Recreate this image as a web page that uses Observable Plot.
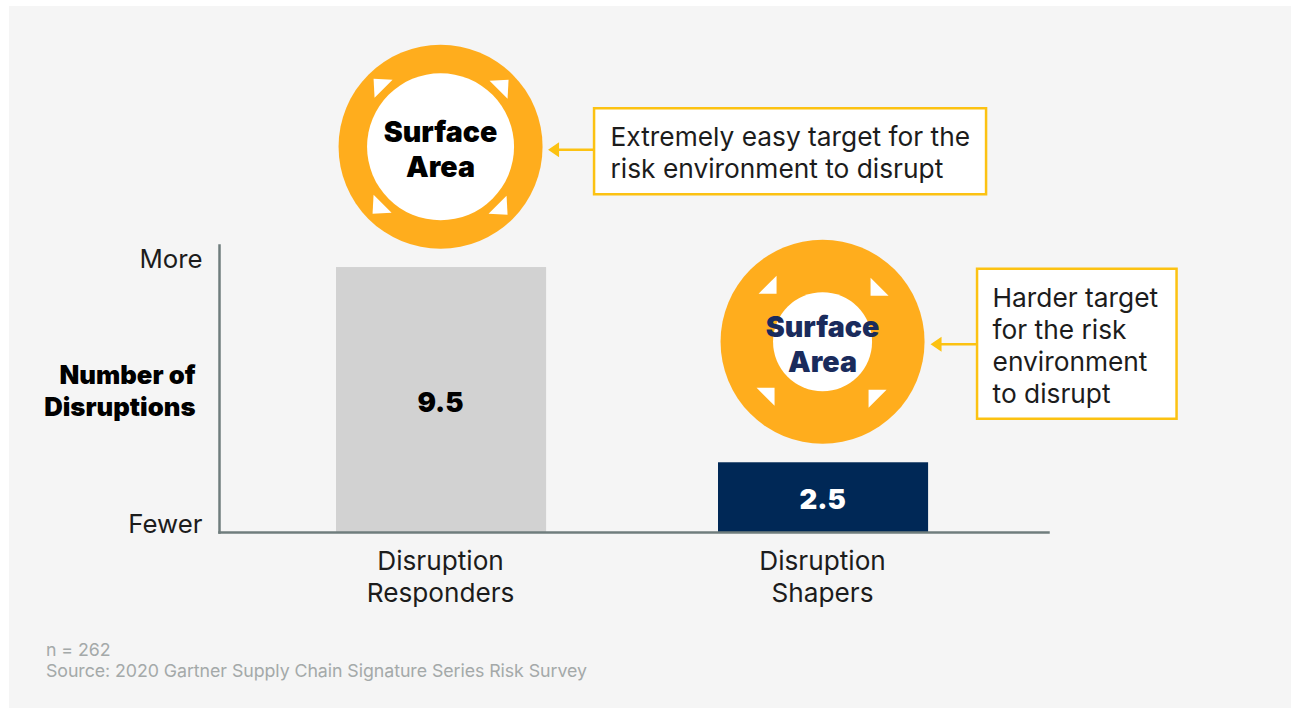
<!DOCTYPE html>
<html>
<head>
<meta charset="utf-8">
<script src="https://cdn.jsdelivr.net/npm/d3@7"></script>
<script src="https://cdn.jsdelivr.net/npm/@observablehq/plot@0.6"></script>
<style>
html,body{margin:0;padding:0;background:#fff;width:1291px;height:708px;overflow:hidden}
#panel{position:absolute;left:9px;top:6px;width:1282px;height:702px;background:#f5f5f5}
#chart{position:absolute;left:0;top:0}
#chart svg{display:block;background:transparent}
#caption{position:absolute;left:46px;top:638.5px;font:17.8px/21.5px Inter,sans-serif;color:#a4a9a9;letter-spacing:-.07px}
</style>
</head>
<body>
<div id="panel"></div>
<div id="chart"></div>
<div id="caption">n = 262<br>Source: 2020 Gartner Supply Chain Signature Series Risk Survey</div>
<script>
const categories = ["Disruption Responders", "Disruption Shapers"];
const values = [9.5, 2.5];
const barFills = ["#d2d2d2", "#002856"];
const valueInk = ["#000000", "#ffffff"];
const badgeLevels = [13.83, 6.84];
const badgeInk = ["#000000", "#1a2b5c"];
const calloutTexts = ["Extremely easy target for the\nrisk environment to disrupt", "Harder target\nfor the risk\nenvironment\nto disrupt"];
const yTicks = [9.79, 0.29];
const yTickLabels = ["More", "Fewer"];
const yTitle = "Number of\nDisruptions";
const yTitleLevel = 5.127;
const badgeLabel = "Surface\nArea";

const ORANGE = "#ffad1d", YELLOW = "#fcc212", FONT = "Inter, sans-serif";

const rows = categories.map((category, i) => ({category, value: values[i], barFill: barFills[i], ink: valueInk[i], level: badgeLevels[i], badgeInk: badgeInk[i], callout: calloutTexts[i]}));
const corners = [0, 90, 180, 270];
const pointsFor = (row) => corners.map((rotate) => ({category: row.category, level: row.level, rotate}));

const poly = (pts) => ({draw(ctx) {
  pts.forEach(([x, y], i) => i ? ctx.lineTo(x, y) : ctx.moveTo(x, y));
  ctx.closePath();
}});
const box = (x0, y0, w, h) => poly([[x0, y0], [x0 + w, y0], [x0 + w, y0 + h], [x0, y0 + h]]);
const arrow = (tip, end, y) => ({draw(ctx) {
  ctx.moveTo(tip, y); ctx.lineTo(tip + 11, y - 7.5); ctx.lineTo(tip + 11, y - 1.2);
  ctx.lineTo(end, y - 1.2); ctx.lineTo(end, y + 1.2); ctx.lineTo(tip + 11, y + 1.2);
  ctx.lineTo(tip + 11, y + 7.5); ctx.closePath();
}});

const plot = Plot.plot({
  width: 1291,
  height: 640,
  marginLeft: 219,
  marginRight: 243,
  marginTop: 245,
  marginBottom: 108,
  style: {fontFamily: FONT, background: "transparent", overflow: "visible"},
  x: {type: "band", domain: categories, paddingInner: 0.45, paddingOuter: 0.3101, align: 0.4939, round: false, label: null},
  y: {domain: [0, 10.29], label: null},
  marks: [
    Plot.barY(rows, {x: "category", y: "value", fill: "barFill"}),
    Plot.frame({anchor: "left", stroke: "#6f7d7d", strokeWidth: 2.5}),
    Plot.frame({anchor: "bottom", stroke: "#6f7d7d", strokeWidth: 2.5}),
    Plot.axisX({tickSize: 0, tickPadding: 15, fontSize: 26.2, lineHeight: 1.22, fill: "#1c1c1c", dx: -1,
      tickFormat: (d) => d.replace(" ", "\n"), label: null}),
    Plot.axisY({ticks: yTicks, tickSize: 0, tickPadding: 17, fontSize: 25.8, fill: "#1c1c1c",
      tickFormat: (d) => yTickLabels[yTicks.indexOf(d)], label: null}),
    Plot.text([yTitle], {x: () => categories[0], y: () => yTitleLevel, text: (d) => d, dx: -246,
      textAnchor: "end", fontSize: 25.7, fontWeight: 900, lineHeight: 1.245, fill: "#000"}),
    Plot.text(rows, {x: "category", y: (d) => d.value / 2, text: (d) => String(d.value), fill: "ink", dy: 3, dx: -1,
      fontSize: 27.5, fontWeight: 900}),
    Plot.dot(rows, {x: "category", y: "level", r: 102, fill: ORANGE, dx: -1}),
    Plot.dot(rows.slice(0, 1), {x: "category", y: "level", r: 73.5, fill: "#fff", dx: -1}),
    Plot.dot(rows.slice(1), {x: "category", y: "level", r: 49.5, fill: "#fff", dx: -1}),
    Plot.dot(pointsFor(rows[0]), {x: "category", y: "level", rotate: "rotate", fill: "#fff", dx: -1,
      symbol: poly([[-67, -68], [-48, -67], [-66, -49]])}),
    Plot.dot(pointsFor(rows[1]), {x: "category", y: "level", rotate: "rotate", fill: "#fff", dx: -1,
      symbol: poly([[-46, -48], [-46, -66], [-64, -48]])}),
    Plot.text(rows, {x: "category", y: "level", text: () => badgeLabel, fill: "badgeInk", dy: 1.5, dx: -1,
      fontSize: 28.6, fontWeight: 900, lineHeight: 1.22}),
    Plot.dot(rows.slice(0, 1), {x: "category", y: "level", fill: YELLOW, symbol: arrow(107.5, 154, 3), dx: -1}),
    Plot.dot(rows.slice(1), {x: "category", y: "level", fill: YELLOW, symbol: arrow(108, 154, 2.5), dx: -1}),
    Plot.dot(rows.slice(0, 1), {x: "category", y: "level", fill: "#fff", stroke: YELLOW, strokeWidth: 2.5, dx: -1,
      symbol: box(153.5, -38.5, 392, 86)}),
    Plot.dot(rows.slice(1), {x: "category", y: "level", fill: "#fff", stroke: YELLOW, strokeWidth: 2.5, dx: -1,
      symbol: box(154.5, -73, 199.5, 150)}),
    Plot.text(rows.slice(0, 1), {x: "category", y: "level", text: "callout", dx: 169, dy: 5, textAnchor: "start",
      fontSize: 26.3, lineHeight: 1.22, fill: "#1c1c1c"}),
    Plot.text(rows.slice(1), {x: "category", y: "level", text: "callout", dx: 169, dy: 3, textAnchor: "start",
      fontSize: 26.3, lineHeight: 1.22, fill: "#1c1c1c"})
  ]
});
document.getElementById("chart").append(plot);
</script>
</body>
</html>
